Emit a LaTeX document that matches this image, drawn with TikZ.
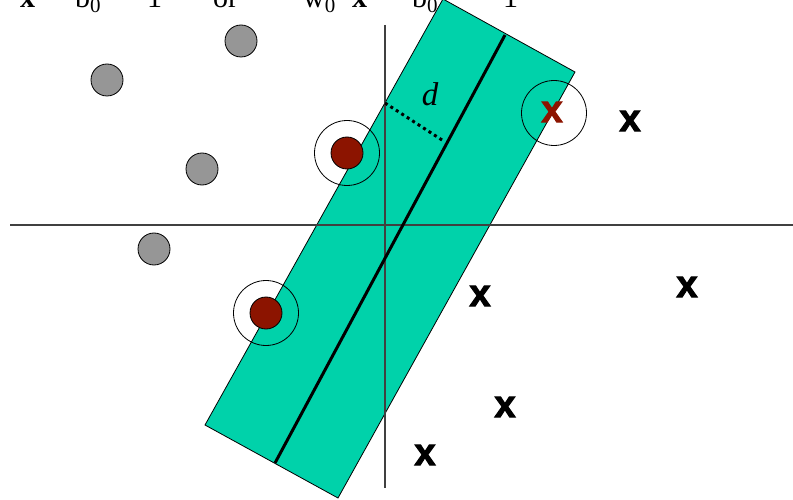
\documentclass[tikz,border=0pt]{standalone}
\usepackage{fontspec}
\setmainfont{Liberation Serif}
\newfontfamily\crossfont{Liberation Sans Bold}[FakeBold=2.5]
\usetikzlibrary{calc}

\definecolor{bandteal}{RGB}{0,210,170}
\definecolor{posred}{RGB}{140,20,0}
\definecolor{neggray}{RGB}{150,150,150}

\begin{document}
\begin{tikzpicture}[
    x=1pt, y=-1pt,
    negdot/.style={circle, draw, line width=0.8pt, fill=neggray, minimum size=32pt, inner sep=0pt},
    posdot/.style={circle, draw, line width=0.8pt, fill=posred, minimum size=32pt, inner sep=0pt},
    ring/.style={circle, draw, line width=0.8pt, minimum size=65pt, inner sep=0pt},
    cross/.style={inner sep=0pt, font=\crossfont\fontsize{38}{38}\selectfont},
    eqtext/.style={inner sep=0pt, anchor=base west, font=\fontsize{30}{30}\selectfont},
    axis/.style={line width=1.2pt, black!75}
  ]
  \clip (0,0) rectangle (793,500);

  % equations, only their lower part shows
  \node[eqtext] (e1) at (20,7.5) {\textbf{x}};
  \node[eqtext] (e2) at (75,7.5) {b\textsubscript{0}};
  \node[eqtext] (e3) at (147,7.5) {1};
  \node[eqtext] (e4) at (213,7.5) {or};
  \node[eqtext] (e5) at (303,7.5) {w\textsubscript{0}};
  \node[eqtext] (e6) at (352,7.5) {\textbf{x}};
  \node[eqtext] (e7) at (412,7.5) {b\textsubscript{0}};
  \node[eqtext] (e8) at (503,7.5) {1};

  % margin band
  \coordinate (bt) at (443,-1);
  \coordinate (br) at (575,72);
  \coordinate (bb) at (338,498);
  \coordinate (bl) at (205,425);
  \filldraw[fill=bandteal, line width=0.8pt] (bt) -- (br) -- (bb) -- (bl) -- cycle;

  % axes
  \coordinate (xl) at (10,225);
  \coordinate (xr) at (793,225);
  \coordinate (yt) at (385,25);
  \coordinate (yb) at (385,488);
  \draw[axis] (xl) -- (xr);
  \draw[axis] (yt) -- (yb);

  % separating line and margin
  \coordinate (ht) at (505,35);
  \coordinate (hb) at (275,463);
  \draw[line width=3pt] (ht) -- (hb);
  \coordinate (dp) at (385,103);
  \coordinate (dq) at (442,140);
  \draw[line width=3pt, dash pattern=on 3pt off 3.5pt] (dp) -- (dq);
  \node[font=\itshape\fontsize{33}{33}\selectfont] (dlab) at (430,94) {d};

  % class -1
  \node[negdot] (n1) at (241,41) {};
  \node[negdot] (n2) at (107,80) {};
  \node[negdot] (n3) at (202,169) {};
  \node[negdot] (n4) at (154,249) {};

  % class +1, support vectors
  \node[posdot] (p1) at (347,153) {};
  \node[ring] at (p1) {};
  \node[posdot] (p2) at (266,313) {};
  \node[ring] at (p2) {};
  \node[ring] (r3) at (554,113) {};
  \node[cross, text=posred] (c0) at (552,112) {x};

  % class +1
  \node[cross] (c1) at (630,121) {x};
  \node[cross] (c2) at (480,296) {x};
  \node[cross] (c3) at (687,287) {x};
  \node[cross] (c4) at (505,407) {x};
  \node[cross] (c5) at (425,455) {x};
\end{tikzpicture}
\end{document}
